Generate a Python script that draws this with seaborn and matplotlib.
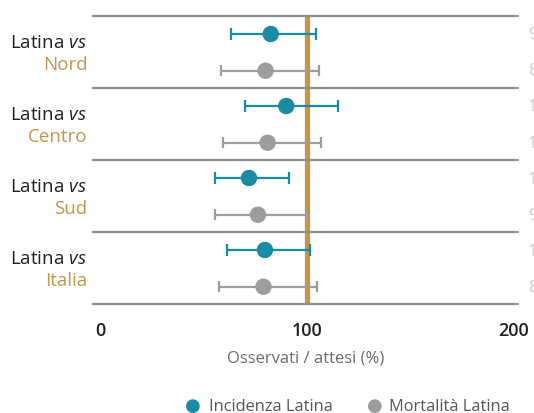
import numpy as np
import pandas as pd
from matplotlib import pyplot as plt
import seaborn as sns

# data
areas = ['Nord', 'Centro', 'Sud', 'Italia']
inc_val = [82.5, 90, 72, 79.7]
inc_low = [63.3, 70, 55.6, 61.4]
inc_high = [104.2, 114.8, 91.5, 101.3]
mort_val = [80, 81, 76.3, 79]
mort_low = [58.5, 59.4, 55.6, 57.6]
mort_high = [106, 107, 100.2, 105]
side_labels = ['9', '8', '1', '1', '1', '9', '1', '8']
x_ticks = [0, 100, 200]

teal = '#1b8aa3'
grey = '#9c9d9e'
gold = '#c1964b'

sns.set_style('white')
plt.rcParams['font.family'] = ['Open Sans', 'DejaVu Sans']
plt.rcParams['mathtext.fontset'] = 'custom'
plt.rcParams['mathtext.rm'] = 'Open Sans'
plt.rcParams['mathtext.it'] = 'Open Sans:italic'

rows = []
for i, a in enumerate(areas):
    rows.append(dict(area=a, serie='Incidenza Latina', y=i + 0.25,
                     val=inc_val[i], lo=inc_low[i], hi=inc_high[i]))
    rows.append(dict(area=a, serie='Mortalità Latina', y=i + 0.76,
                     val=mort_val[i], lo=mort_low[i], hi=mort_high[i]))
df = pd.DataFrame(rows)
palette = {'Incidenza Latina': teal, 'Mortalità Latina': grey}

fig = plt.figure(figsize=(5.34, 4.14), dpi=100)
ax = fig.add_axes([93 / 534, 1 - 305 / 414, 425 / 534, 288 / 414])

# reference line at 100
ax.axvline(100, color=gold, lw=3.8, zorder=1)

# separators
for b in range(len(areas) + 1):
    ax.axhline(b, color='#8e8f90', lw=1.6, zorder=2, clip_on=False)

# confidence intervals
for s, g in df.groupby('serie'):
    c = palette[s]
    ax.hlines(g['y'], g['lo'], g['hi'], color=c, lw=1.6, zorder=3)
    ax.vlines(g['lo'], g['y'] - 0.08, g['y'] + 0.08, color=c, lw=1.6, zorder=3)
    ax.vlines(g['hi'], g['y'] - 0.08, g['y'] + 0.08, color=c, lw=1.6, zorder=3)

sns.scatterplot(data=df, x='val', y='y', hue='serie', palette=palette,
                s=140, edgecolor='none', zorder=4, ax=ax, legend=False)

ax.set_xlim(-3.4, 202)
ax.set_ylim(4, 0)
ax.set_yticks([])
ax.set_ylabel('')
ax.set_xticks(x_ticks)
ax.set_xticklabels([str(t) for t in x_ticks], fontsize=13,
                   fontweight='semibold', color='#222222')
ax.tick_params(axis='x', length=0, pad=12)
ax.set_xlabel('Osservati / attesi (%)', fontsize=12, color='#6b6b6b', labelpad=8)
sns.despine(ax=ax, left=True, bottom=True)

# group labels
for i, a in enumerate(areas):
    ax.text(-6, i + 0.36, r'Latina$\ \it{vs}$', ha='right', va='center',
            fontsize=13.5, color='#231f20')
    ax.text(-6, i + 0.66, a, ha='right', va='center', fontsize=13.5, color=gold)

# values on the right edge, cut by the border as in the original
for k, t in enumerate(side_labels):
    fig.text(528 / 534, 1 - (35 + k * 36.2) / 414, t, ha='left', va='center',
             fontsize=12, color='#c9ccc9')

# legend
fig.text(193 / 534, 1 - 406 / 414, '●', color=teal, fontsize=13, ha='center', va='center',
         family='DejaVu Sans')
fig.text(209 / 534, 1 - 407 / 414, 'Incidenza Latina', color='#555555', fontsize=11.8, va='center')
fig.text(375 / 534, 1 - 406 / 414, '●', color=grey, fontsize=13, ha='center', va='center',
         family='DejaVu Sans')
fig.text(389 / 534, 1 - 407 / 414, 'Mortalità Latina', color='#555555', fontsize=11.8, va='center')

fig.savefig('out.png', dpi=100)
